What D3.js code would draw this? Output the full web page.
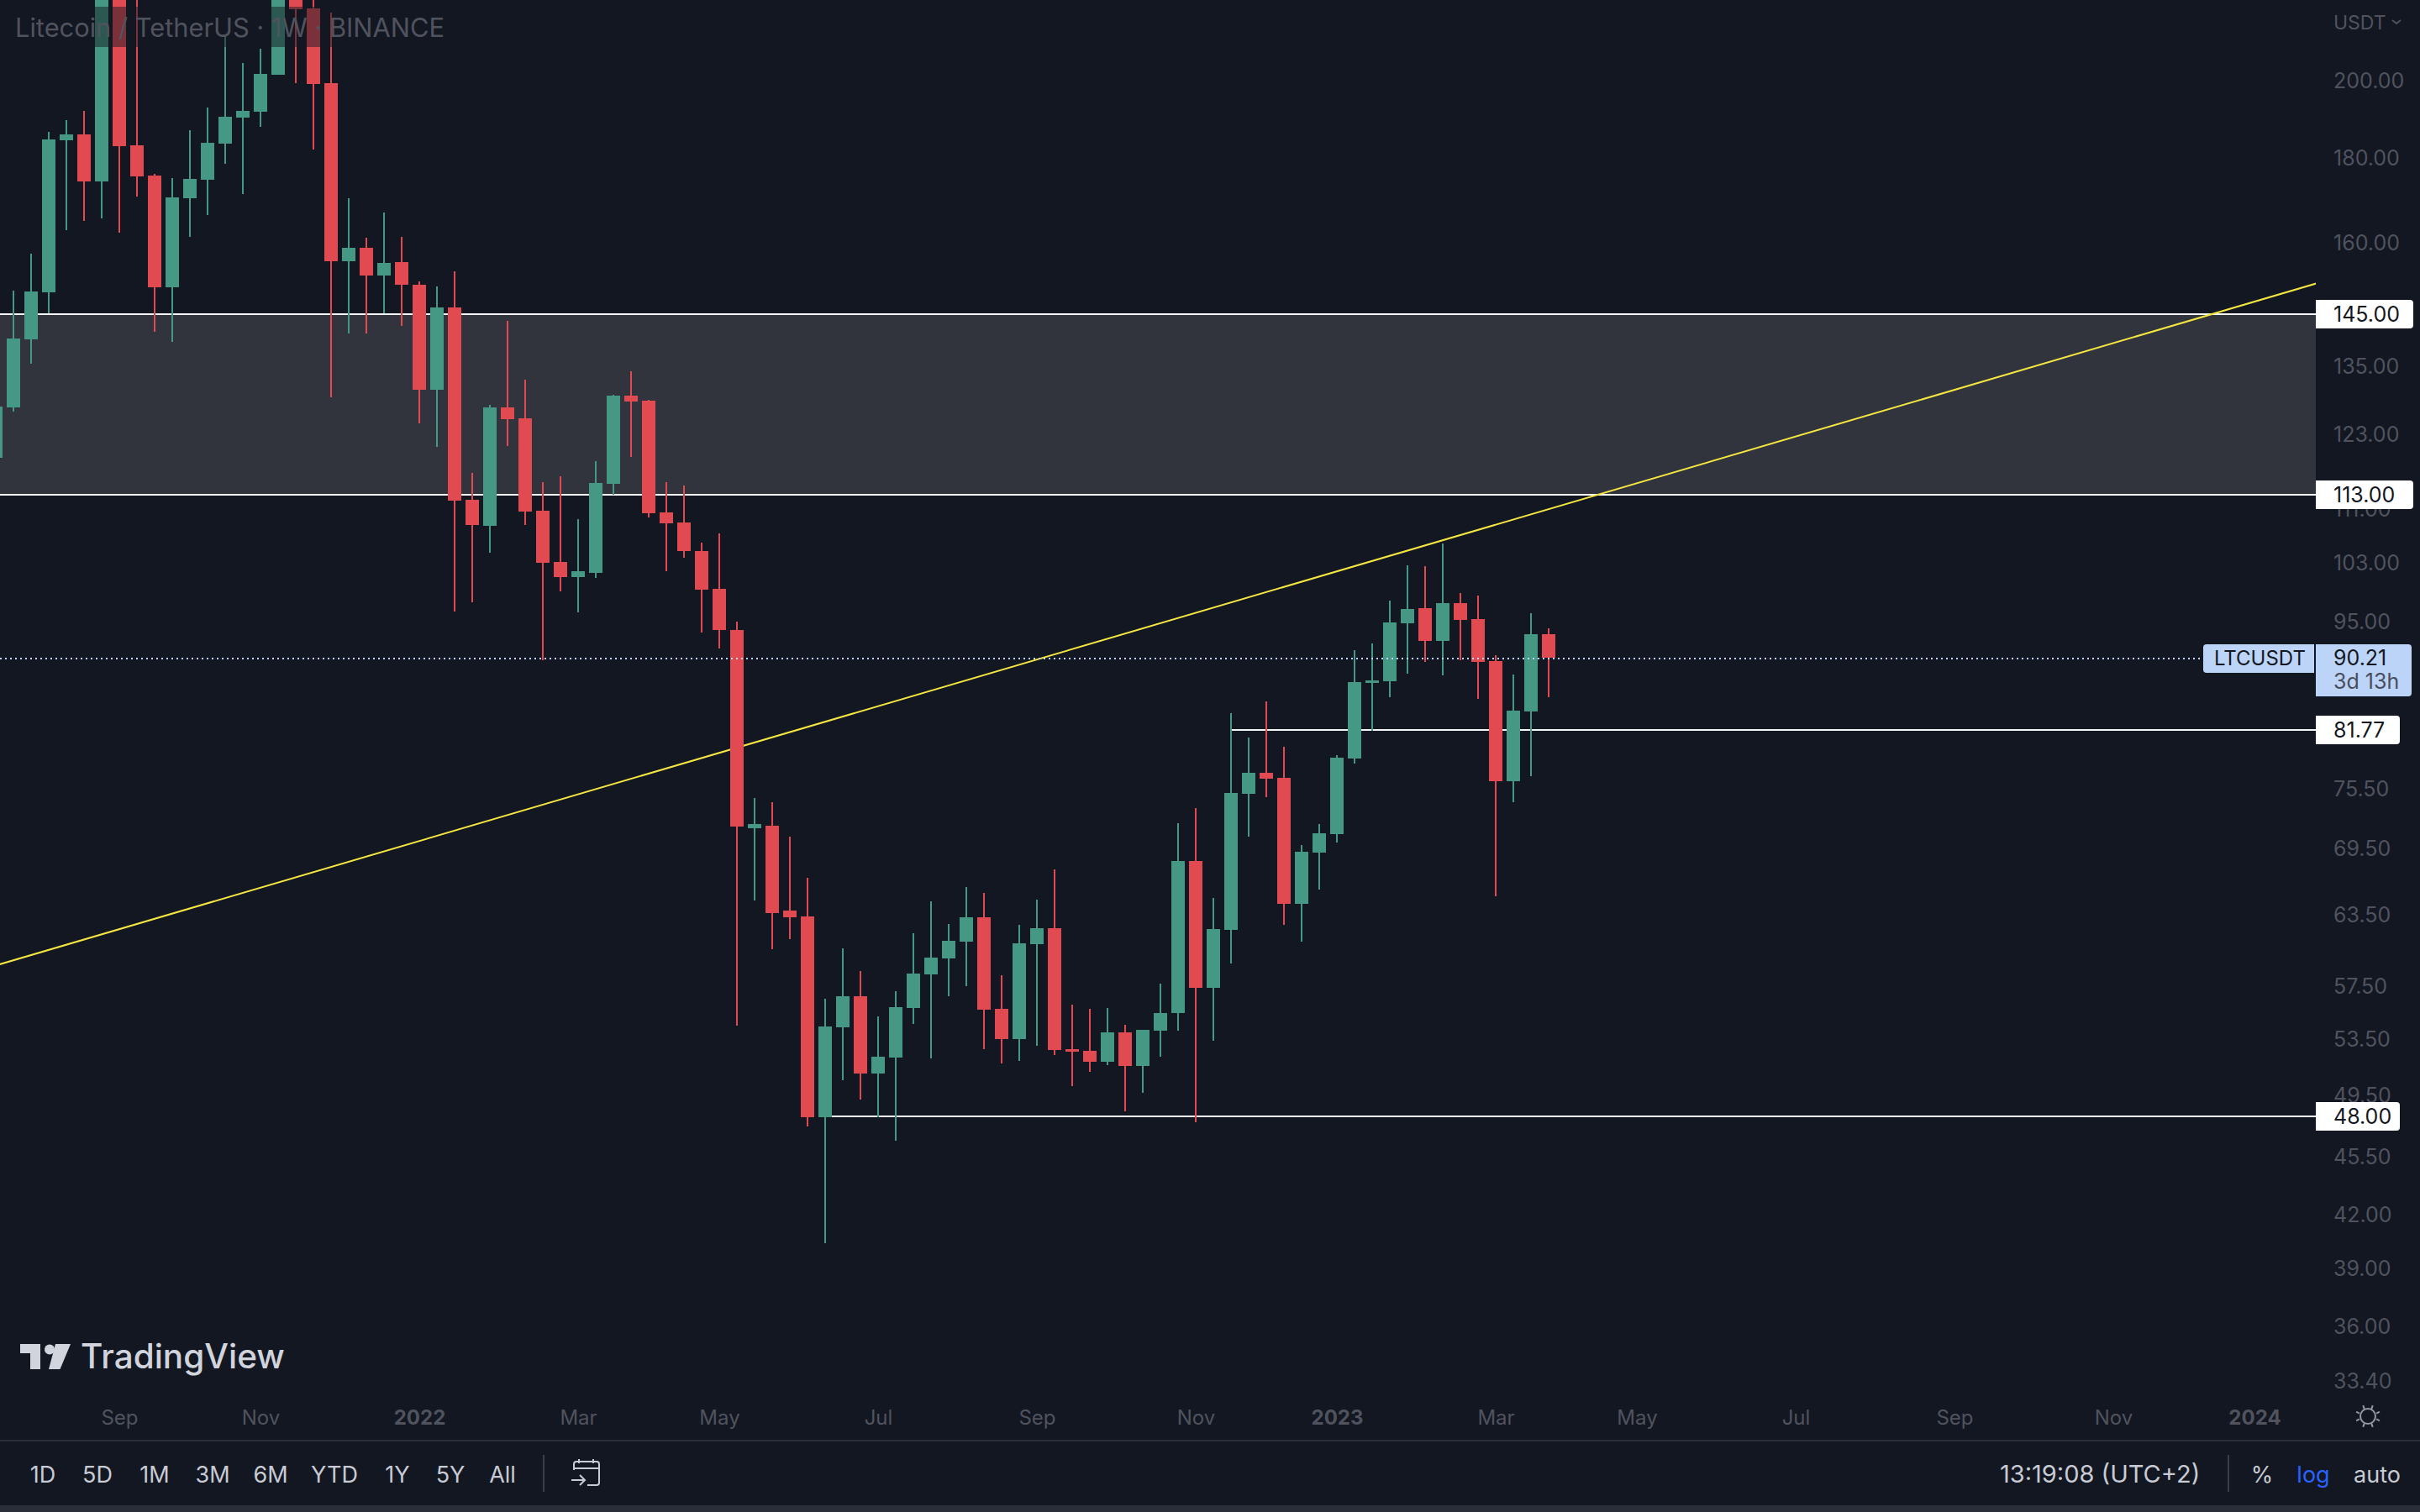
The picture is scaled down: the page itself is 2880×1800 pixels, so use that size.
<!DOCTYPE html>
<html>
<head>
<meta charset="utf-8">
<title>LTCUSDT</title>
<script src="https://cdn.jsdelivr.net/npm/d3@7"></script>
<style>
  html, body { margin: 0; padding: 0; background: #131722; }
  svg { display: block; }
  text { font-family: Inter, "Noto Sans", sans-serif; }
  .domain { display: none; }
  .tick line { display: none; }
</style>
</head>
<body>
<svg id="chart" width="2880" height="1800"></svg>
<script>
// weekly LTC/USDT candles, first one is the week of 2021-07-12
var firstWeek = new Date(Date.UTC(2021, 6, 12));
var lastWeek = new Date(Date.UTC(2023, 2, 20));

var opens = [118.9, 127.42, 139.87, 149.26, 184.10, 185.58, 173.93, 231, 182.82, 175.32, 150.32, 169.97, 174.33, 183.25, 189.92, 191.47,
  201.42, 231, 220.7, 199.04, 155.84, 158.74, 152.82, 155.66, 150.86, 130.53, 146.21, 112.17, 108.28, 127.42, 125.5, 110.51, 102.92,
  100.89, 101.49, 114.72, 129.49, 128.6, 110.26, 108.77, 104.58, 99.23, 93.77, 71.39, 71.64, 63.74, 63.22, 47.92, 54.29, 56.65, 50.94,
  52.07, 55.72, 58.38, 59.68, 61.08, 63.15, 55.66, 53.41, 60.87, 62.2, 52.66, 52.54, 51.77, 53.91, 51.42, 54.04, 55.35, 68.25, 57.32,
  62.06, 74.85, 77.06, 76.53, 64.34, 69.04, 70.81, 78.56, 87.2, 87.4, 94.66, 96.67, 92.4, 97.34, 95.22, 89.86, 76.18, 83.83, 93.24];
var highs = [127.57, 149.61, 157.44, 186.22, 189.25, 191.70, 235, 236.5, 226, 175.71, 174.72, 186.64, 192.58, 212.7, 204.75, 208.8,
  234, 234, 226, 219.45, 169.97, 160.99, 166.64, 161.18, 151.57, 150.5, 153.71, 116.46, 127.86, 143.52, 132.3, 114.98, 115.92,
  109.27, 118.34, 129.64, 133.86, 128.75, 114.98, 114.45, 105.8, 107.04, 94.88, 74.41, 73.99, 70.55, 66.67, 56.45, 60.52, 58.65, 55.1,
  57.05, 61.78, 64.56, 62.55, 65.83, 65.31, 58.32, 62.48, 64.71, 67.46, 55.99, 55.66, 55.72, 54.47, 54.1, 57.65, 71.9, 73.4, 64.86,
  83.63, 80.9, 85.02, 79.86, 69.75, 71.81, 78.92, 91.24, 92.08, 97.67, 102.44, 102.32, 105.67, 98.67, 98.34, 90.6, 88.19, 96.0, 93.99];
var lows = [118.9, 126.68, 135.29, 145.0, 162.5, 164.76, 165.32, 161.94, 170.37, 141.34, 139.39, 161.18, 166.07, 178.16, 170.96, 187.49,
  201.42, 199.04, 181.76, 129.2, 141.0, 141.0, 145.0, 142.52, 124.64, 120.58, 96.22, 97.45, 104.23, 120.72, 108.4, 89.97, 98.89,
  96.11, 100.77, 112.97, 119.04, 109.52, 101.61, 103.51, 93.45, 91.45, 54.41, 64.64, 60.45, 61.29, 47.36, 40.33, 50.47, 49.14, 47.94,
  46.44, 54.53, 52.01, 56.65, 57.45, 52.66, 51.65, 51.83, 52.91, 52.24, 50.06, 51.06, 51.53, 48.36, 49.58, 52.13, 54.04, 47.64, 53.29,
  59.26, 70.55, 74.5, 62.48, 61.08, 65.61, 69.98, 78.03, 81.65, 85.51, 88.29, 89.76, 88.09, 89.97, 85.3, 65.01, 73.99, 76.71, 85.51];
var closes = [127.57, 140.03, 149.43, 184.31, 185.58, 173.93, 231, 182.61, 175.12, 150.32, 170.17, 174.53, 183.46, 190.14, 191.70, 201.66,
  231, 220.45, 198.8, 155.84, 158.74, 152.82, 155.49, 150.86, 130.53, 146.21, 112.04, 108.4, 127.42, 125.35, 110.38, 102.8, 100.89,
  101.61, 114.85, 129.49, 128.46, 110.14, 108.65, 104.47, 99.12, 93.77, 71.56, 71.77, 63.52, 63.15, 47.92, 54.35, 56.65, 50.94, 52.13,
  55.79, 58.45, 59.75, 61.15, 63.15, 55.6, 53.41, 60.94, 62.2, 52.6, 52.48, 51.77, 53.91, 51.42, 54.1, 55.35, 68.25, 57.32, 62.13,
  74.94, 77.06, 76.44, 64.34, 69.12, 70.89, 78.65, 87.3, 87.5, 94.77, 96.55, 92.4, 97.34, 95.11, 89.76, 76.18, 83.93, 93.24, 90.21];

var priceTicks = [200, 180, 160, 135, 123, 111, 103, 95, 75.5, 69.5, 63.5, 57.5, 53.5, 49.5, 45.5, 42, 39, 36, 33.4];

var timeTicks = ["2021-08-30", "2021-10-25", "2021-12-27", "2022-02-28", "2022-04-25", "2022-06-27", "2022-08-29", "2022-10-31",
  "2022-12-26", "2023-02-27", "2023-04-24", "2023-06-26", "2023-08-28", "2023-10-30", "2023-12-25"];
var timeLabels = ["Sep", "Nov", "2022", "Mar", "May", "Jul", "Sep", "Nov", "2023", "Mar", "May", "Jul", "Sep", "Nov", "2024"];

// drawn levels and the zone between the first two
var zoneTop = 145;
var zoneBottom = 113;
var resistance = 81.77;
var support = 48;
var lastPrice = 90.21;
var resistanceStart = "2022-11-14";
var supportStart = "2022-06-06";

// rising trendline, two anchors past the edges of the pane
var trendDates = ["2021-06-21", "2024-01-29"];
var trendPrices = [57.83, 152.7];

var ranges = ["1D", "5D", "1M", "3M", "6M", "YTD", "1Y", "5Y", "All"];
var rangeCenters = [51, 116, 184, 253, 322, 398, 473, 536, 598];

var GREEN = "#459883", RED = "#e04a50", AXIS_TEXT = "#50535e", BG = "#131722", BORDER = "#2a2e39", LABEL_BLUE = "#bbd4f7";

var weeks = d3.utcMonday.range(firstWeek, d3.utcDay.offset(lastWeek, 1));
var candles = weeks.map((d, i) => ({ date: d, open: opens[i], high: highs[i], low: lows[i], close: closes[i] }));

var paneRight = 2756;
var x = d3.scaleUtc().domain([firstWeek, lastWeek]).range([-5, 1843]);
var y = d3.scaleLog().domain([145, 48]).range([373, 1329]);
// the drawn levels and their labels sit a hair lower than the candle scale
var yLevel = d3.scaleLog().domain([145, 48]).range([374, 1329.4]);

var svg = d3.select("#chart");
svg.append("rect").attr("width", 2880).attr("height", 1800).attr("fill", BG);

svg.append("clipPath").attr("id", "pane").append("rect").attr("width", paneRight).attr("height", 1715);
var pane = svg.append("g").attr("clip-path", "url(#pane)");

// zone
pane.append("rect")
  .attr("x", 0).attr("width", paneRight)
  .attr("y", yLevel(zoneTop)).attr("height", yLevel(zoneBottom) - yLevel(zoneTop))
  .attr("fill", "#31343d");

function hLine(price, from) {
  pane.append("line")
    .attr("x1", from).attr("x2", paneRight)
    .attr("y1", Math.round(yLevel(price))).attr("y2", Math.round(yLevel(price)))
    .attr("stroke", "#f5f6f8").attr("stroke-width", 2)
    .attr("shape-rendering", "crispEdges");
}
hLine(zoneTop, 0);
hLine(zoneBottom, 0);
hLine(resistance, x(new Date(resistanceStart)));
hLine(support, x(new Date(supportStart)));

// trendline
pane.append("line")
  .attr("x1", x(new Date(trendDates[0]))).attr("y1", y(trendPrices[0]))
  .attr("x2", x(new Date(trendDates[1]))).attr("y2", y(trendPrices[1]))
  .attr("stroke", "#f5e642").attr("stroke-width", 2);

// candles
var bars = pane.append("g").attr("shape-rendering", "crispEdges")
  .selectAll("g").data(candles).join("g")
  .attr("fill", d => d.close >= d.open ? GREEN : RED);

bars.append("rect")
  .attr("x", d => Math.round(x(d.date)) - 1)
  .attr("width", 2)
  .attr("y", d => Math.round(y(d.high)))
  .attr("height", d => Math.round(y(d.low)) - Math.round(y(d.high)));

bars.append("rect")
  .attr("x", d => Math.round(x(d.date)) - 8)
  .attr("width", 16)
  .attr("y", d => Math.round(y(Math.max(d.open, d.close))))
  .attr("height", d => Math.max(2, Math.round(y(Math.min(d.open, d.close))) - Math.round(y(Math.max(d.open, d.close)))));

// last price dotted line
svg.append("line")
  .attr("x1", 0).attr("x2", 2622)
  .attr("y1", 784).attr("y2", 784)
  .attr("stroke", LABEL_BLUE).attr("stroke-width", 2)
  .attr("stroke-dasharray", "2 4")
  .attr("shape-rendering", "crispEdges");

// legend title, its background dims the bars under it
svg.append("rect").attr("x", 8).attr("y", 8).attr("width", 528).attr("height", 48).attr("fill", BG).attr("opacity", 0.5);
svg.append("text").attr("x", 18).attr("y", 44).attr("font-size", 30.8).attr("fill", "#50535e")
  .text("Litecoin / TetherUS · 1W · BINANCE");

// price axis
var yAxis = d3.axisRight(y).tickValues(priceTicks).tickFormat(d3.format(".2f")).tickSize(0).tickPadding(0);
var yG = svg.append("g").attr("transform", "translate(2777,2)").call(yAxis);
yG.selectAll("text").attr("font-size", 25).attr("fill", AXIS_TEXT).style("font-family", "Inter");

svg.append("text").attr("x", 2777).attr("y", 35).attr("font-size", 23).attr("fill", AXIS_TEXT).text("USDT");
svg.append("path").attr("d", "M2847 24 L2852 28 L2857 24").attr("fill", "none").attr("stroke", AXIS_TEXT).attr("stroke-width", 2);

// price labels
function priceLabel(price, labelWidth) {
  var py = Math.round(yLevel(price));
  svg.append("path")
    .attr("d", "M" + paneRight + " " + (py - 17) + " H" + (paneRight + labelWidth - 4) + " q4 0 4 4 V" + (py + 13) + " q0 4 -4 4 H" + paneRight + " Z")
    .attr("fill", "#ffffff");
  svg.append("text").attr("x", 2777).attr("y", py + 9).attr("font-size", 25).attr("fill", BG).text(d3.format(".2f")(price));
}
priceLabel(zoneTop, 116);
priceLabel(zoneBottom, 116);
priceLabel(resistance, 100);
priceLabel(support, 100);

// current price label with countdown and symbol tag
svg.append("path").attr("d", "M2756 767 H2866 q4 0 4 4 V825 q0 4 -4 4 H2756 Z").attr("fill", LABEL_BLUE);
svg.append("text").attr("x", 2777).attr("y", 792).attr("font-size", 25).attr("fill", BG).text(d3.format(".2f")(lastPrice));
svg.append("text").attr("x", 2777).attr("y", 820).attr("font-size", 25).attr("fill", "#4a4e5c").text("3d 13h");
svg.append("path").attr("d", "M2626 767 H2754 V801 H2626 q-4 0 -4 -4 V771 q0 -4 4 -4 Z").attr("fill", LABEL_BLUE);
svg.append("text").attr("x", 2635).attr("y", 792).attr("font-size", 24).attr("fill", BG).text("LTCUSDT");

// time axis
var xAxis = d3.axisBottom(x).tickValues(timeTicks.map(d => new Date(d))).tickFormat((d, i) => timeLabels[i]).tickSize(0).tickPadding(0);
var xG = svg.append("g").attr("transform", "translate(0,1679)").call(xAxis);
xG.selectAll("text").attr("font-size", 24).attr("fill", AXIS_TEXT)
  .attr("font-weight", (d, i) => /^\d/.test(timeLabels[i]) ? 700 : 400);

svg.append("rect").attr("x", 0).attr("y", 1714).attr("width", 2880).attr("height", 2).attr("fill", BORDER);
svg.append("rect").attr("x", 0).attr("y", 1792).attr("width", 2880).attr("height", 8).attr("fill", BORDER);

// sun icon
var sun = svg.append("g").attr("transform", "translate(2818,1686)").attr("fill", "none").attr("stroke", "#9598a1").attr("stroke-width", 2);
sun.append("circle").attr("r", 9);
d3.range(8).forEach(i => {
  var a = i * Math.PI / 4 + Math.PI / 8;
  sun.append("line").attr("x1", 11 * Math.cos(a)).attr("y1", 9 * Math.sin(a)).attr("x2", 15 * Math.cos(a)).attr("y2", 14 * Math.sin(a));
});

// logo
var logo = svg.append("g").attr("fill", "#d1d4dc");
logo.append("path").attr("d", "M24 1600 H48 V1630 H36 V1611 H24 Z");
logo.append("circle").attr("cx", 59).attr("cy", 1606.5).attr("r", 6);
logo.append("path").attr("d", "M66 1600 H84 L71.5 1630 H58 Z");
logo.append("text").attr("x", 96).attr("y", 1629).attr("font-size", 40.5).attr("font-weight", 500).text("TradingView");

// bottom toolbar
svg.append("g").selectAll("text").data(ranges).join("text")
  .attr("x", (d, i) => rangeCenters[i]).attr("y", 1765)
  .attr("text-anchor", "middle").attr("font-size", 27).attr("fill", "#c8cbd4").text(d => d);

svg.append("rect").attr("x", 646).attr("y", 1732).attr("width", 2).attr("height", 44).attr("fill", "#3a3e4a");
svg.append("rect").attr("x", 2651).attr("y", 1732).attr("width", 2).attr("height", 44).attr("fill", "#3a3e4a");

// calendar icon
var cal = svg.append("g").attr("fill", "none").attr("stroke", "#c8cbd4").attr("stroke-width", 2);
cal.append("path").attr("d", "M683 1750 V1743 q0 -3 3 -3 H710 q3 0 3 3 V1765 q0 3 -3 3 H699");
cal.append("path").attr("d", "M683 1748 H713 M689 1737 V1742 M706 1737 V1742");
cal.append("path").attr("d", "M680 1762 H696 M690 1756 L696 1762 L690 1768");

svg.append("text").attr("x", 2380).attr("y", 1765).attr("font-size", 29).attr("fill", "#c8cbd4").text("13:19:08 (UTC+2)");
svg.append("text").attr("x", 2692).attr("y", 1765).attr("text-anchor", "middle").attr("font-size", 27).attr("fill", "#c8cbd4").text("%");
svg.append("text").attr("x", 2753).attr("y", 1765).attr("text-anchor", "middle").attr("font-size", 27).attr("fill", "#2962ff").text("log");
svg.append("text").attr("x", 2829).attr("y", 1765).attr("text-anchor", "middle").attr("font-size", 27).attr("fill", "#c8cbd4").text("auto");
</script>
</body>
</html>
